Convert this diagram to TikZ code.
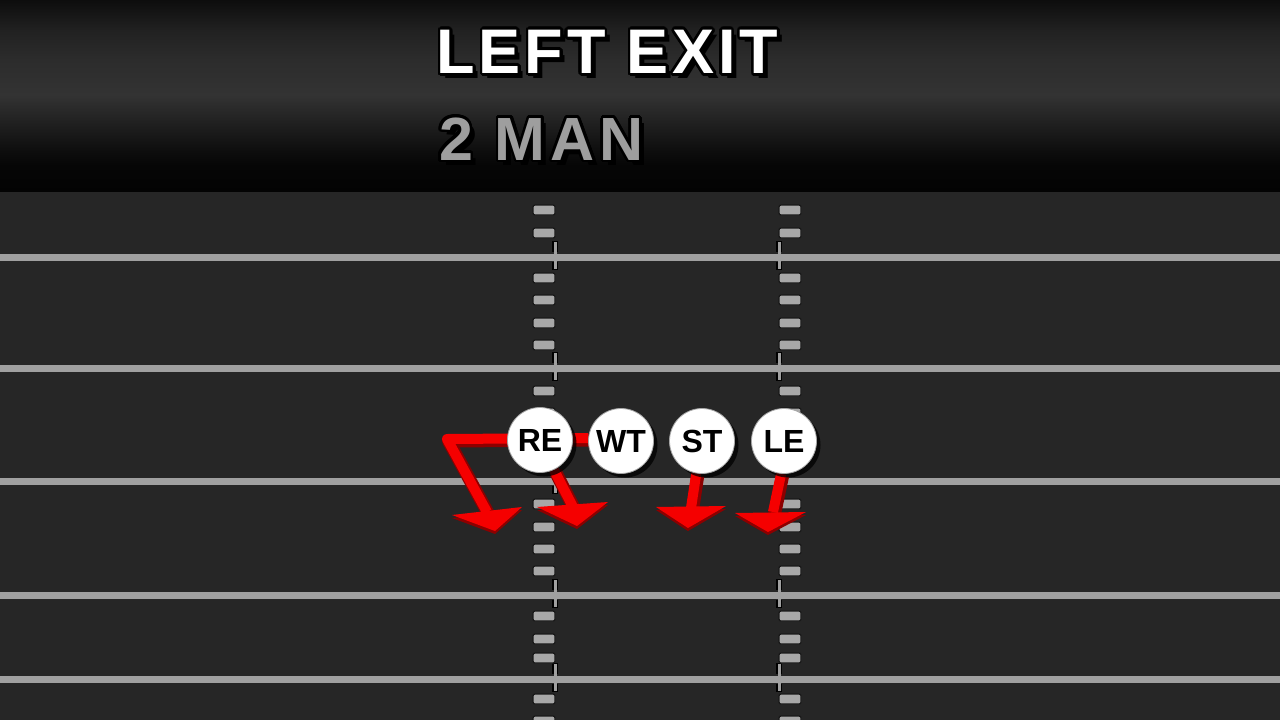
\documentclass[tikz,border=0pt]{standalone}
\usepackage{fontspec}
\setmainfont{Liberation Sans}
\usepackage[copies]{contour}
\usetikzlibrary{shadows,calc}
\contourlength{2.6pt}
\contournumber{24}
\definecolor{fieldbg}{RGB}{38,38,38}
\definecolor{linegray}{RGB}{160,160,160}
\definecolor{hashgray}{RGB}{168,168,168}
\definecolor{routered}{RGB}{245,0,0}
\definecolor{routedark}{RGB}{140,0,0}
\definecolor{mangray}{RGB}{158,158,158}
\definecolor{hA}{RGB}{3,3,3}
\definecolor{hB}{RGB}{6,6,6}
\definecolor{hC}{RGB}{14,14,14}
\definecolor{hD}{RGB}{34,34,34}
\definecolor{hE}{RGB}{51,51,51}
\definecolor{hF}{RGB}{44,44,44}
\definecolor{hG}{RGB}{33,33,33}
\definecolor{hH}{RGB}{13,13,13}
\pgfdeclareverticalshading{hdr}{100bp}{color(0bp)=(hA); color(25bp)=(hA); color(32bp)=(hB); color(36bp)=(hC); color(43.75bp)=(hD); color(50.3bp)=(hE); color(59.4bp)=(hF); color(67.2bp)=(hG); color(75bp)=(hH); color(100bp)=(hH)}
\pgfdeclarelayer{bg}
\pgfdeclarelayer{routes}
\pgfsetlayers{bg,routes,main}
\newcommand{\shadowed}[2]{\makebox[0pt][l]{\hspace{5pt}\raisebox{-5pt}{\color{black}#2}}{\color{#1}\contour{black}{#2}}}
\begin{document}
\begin{tikzpicture}[x=1pt,y=-1pt,
  hashmark/.style={fill=hashgray, draw=black!90, line width=1.2pt, rounded corners=2pt},
  player/.style={circle, fill=white, draw=black!35, line width=0.8pt, minimum size=65pt, inner sep=0pt,
    font=\fontsize{32}{32}\selectfont\bfseries, text=black,
    drop shadow={shadow xshift=4pt, shadow yshift=-4pt, opacity=0.75, fill=black}},
  routeshade/.style={draw=routedark, line width=13pt, line join=round},
  route/.style={draw=routered, line width=10pt, line join=round},
  headshade/.style={fill=routedark},
  head/.style={fill=routered}]
\useasboundingbox (0,0) rectangle (1280,720);
\begin{pgfonlayer}{bg}
  \shade[shading=hdr] (0,0) rectangle (1280,192);
  \fill[fieldbg] (0,192) rectangle (1280,720);
  \foreach \y in {257,368,481,595,679} {
    \foreach \x in {555,779} {\fill[black] (\x-3,\y-16) rectangle (\x+3,\y+13);}
    \fill[black!85] (0,\y-5) rectangle (1280,\y+5);
    \foreach \x in {555,779} {\fill[linegray] (\x-1.5,\y-15) rectangle (\x+1.5,\y+12);}
    \fill[linegray] (0,\y-3.5) rectangle (1280,\y+3.5);
  }
  \foreach \y in {210,233,278,300,323,345,391,413,436,458,504,527,549,571,616,639,658,699,721} {
    \foreach \x in {544,790} {\draw[hashmark] (\x-11,\y-5) rectangle (\x+11,\y+5);}
  }
\end{pgfonlayer}
% titles
\node[anchor=base west, inner sep=0pt, font=\fontsize{63}{63}\selectfont\bfseries\addfontfeatures{LetterSpace=6}] (title) at (436.5,73.5) {\shadowed{white}{LEFT EXIT}};
\node[anchor=base west, inner sep=0pt, font=\fontsize{61}{61}\selectfont\bfseries\addfontfeatures{LetterSpace=8}] (sub) at (439,160) {\shadowed{mangray}{2 MAN}};
% players
\node[player] (RE) at (540,440) {RE};
\node[player] (WT) at (621,441) {WT};
\node[player] (ST) at (702,441) {ST};
\node[player] (LE) at (784,441) {LE};
% route coordinates
\coordinate (wtc) at (447,439);
\coordinate (wte) at (487,512);
\coordinate (wtL) at (452,515); \coordinate (wtR) at (522,507); \coordinate (wtT) at (495,531);
\coordinate (ree) at (573,507);
\coordinate (reL) at (537,507); \coordinate (reR) at (608,502); \coordinate (reT) at (577,526);
\coordinate (ste) at (691,508);
\coordinate (stL) at (656,507); \coordinate (stR) at (726,506); \coordinate (stT) at (688,528);
\coordinate (lee) at (773,512);
\coordinate (leL) at (735,513); \coordinate (leR) at (806,512); \coordinate (leT) at (768,532);
\begin{pgfonlayer}{routes}
  \draw[routeshade, transform canvas={xshift=1.5pt, yshift=-2pt}] ([yshift=3pt]WT.west) -- (wtc) -- (wte);
  \draw[routeshade, transform canvas={xshift=1.5pt, yshift=-2pt}] (RE.-65) -- (ree);
  \draw[routeshade, transform canvas={xshift=1.5pt, yshift=-2pt}] (ST.-100) -- (ste);
  \draw[routeshade, transform canvas={xshift=1.5pt, yshift=-2pt}] (LE.-95) -- (lee);
  \draw[route] ([yshift=3pt]WT.west) -- (wtc) -- (wte);
  \draw[route] (RE.-65) -- (ree);
  \draw[route] (ST.-100) -- (ste);
  \draw[route] (LE.-95) -- (lee);
  \foreach \p in {wt,re,st,le} {
    \fill[headshade] ([yshift=-3pt]\p L) -- ([yshift=-3pt]\p R) -- ([yshift=-3pt]\p T) -- cycle;
    \fill[head] (\p L) -- (\p R) -- (\p T) -- cycle;
  }
\end{pgfonlayer}
\end{tikzpicture}
\end{document}
